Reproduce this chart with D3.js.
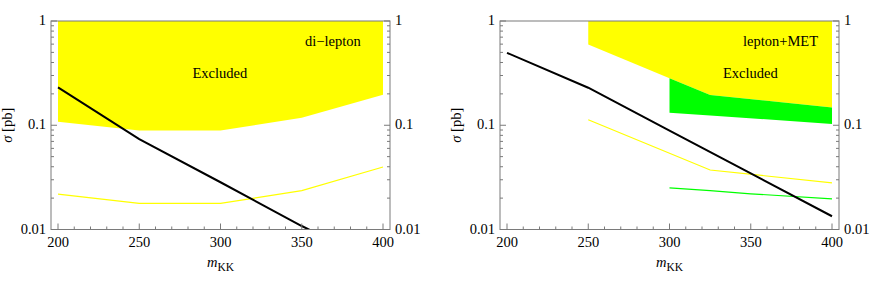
<!DOCTYPE html>
<html>
<head>
<meta charset="utf-8">
<script src="https://cdn.jsdelivr.net/npm/d3@7"></script>
<style>
  body { margin: 0; background: #fff; }
  svg { display: block; }
  text { font-family: "Liberation Serif", "Times New Roman", serif; font-size: 14.5px; fill: #000; }
</style>
</head>
<body>
<svg id="chart" width="872" height="286"></svg>
<script>
// masses shared by both panels
const masses = [200, 250, 300, 350, 400]
const xTicks = [200, 250, 300, 350, 400]
const yTicks = [1, 0.1, 0.01]
const yTickLabels = ['1', '0.1', '0.01']

// di-lepton panel
const dlExclMass = [200, 250, 300, 350, 400]
const dlExclLow = [0.108, 0.089, 0.089, 0.118, 0.196]
const dlExpected = [0.0218, 0.0178, 0.0178, 0.0236, 0.0398]
const dlSigma = [0.231, 0.0736, 0.0284, 0.0108, 0.0045]

// lepton+MET panel
const lmExclMass = [250, 300, 325, 400]
const lmExclLow = [0.594, 0.282, 0.195, 0.148]
const lmGreenMass = [300, 325, 400]
const lmGreenHigh = [0.282, 0.195, 0.148]
const lmGreenLow = [0.132, 0.124, 0.103]
const lmYellowMass = [250, 325, 400]
const lmYellowLine = [0.113, 0.0372, 0.028]
const lmGreenLineMass = [300, 325, 350, 400]
const lmGreenLine = [0.0251, 0.0236, 0.022, 0.0197]
const lmSigma = [0.495, 0.229, 0.089, 0.0345, 0.0134]

const svg = d3.select('#chart')
const frameTop = 21
const frameBottom = 229.5
const frameColor = '#7a7a7a'

/**
 * draw one framed log-scale panel
 */
const drawPanel = (cfg) => {
  const { left, right, id } = cfg
  const g = svg.append('g')
  const x = d3.scaleLinear().domain([200, 400]).range([left + 7, right - 7])
  const y = d3.scaleLog().domain([0.01, 1]).range([frameBottom, frameTop])

  g.append('clipPath').attr('id', 'clip' + id)
    .append('rect').attr('x', left).attr('y', frameTop)
    .attr('width', right - left).attr('height', frameBottom - frameTop)
  const plot = g.append('g').attr('clip-path', `url(#clip${id})`)

  // filled bands
  cfg.bands.forEach((b) => {
    const area = d3.area()
      .x((d) => x(d[0]))
      .y0((d) => y(d[1]))
      .y1((d) => y(d[2]))
    plot.append('path')
      .datum(b.mass.map((m, i) => [m, b.low[i], b.high[i]]))
      .attr('d', area)
      .attr('fill', b.color)
  })

  // lines
  cfg.lines.forEach((l) => {
    const line = d3.line().x((d) => x(d[0])).y((d) => y(d[1]))
    plot.append('path')
      .datum(l.mass.map((m, i) => [m, l.values[i]]))
      .attr('d', line)
      .attr('fill', 'none')
      .attr('stroke', l.color)
      .attr('stroke-width', l.width)
  })

  // frame
  g.append('rect').attr('x', left).attr('y', frameTop)
    .attr('width', right - left).attr('height', frameBottom - frameTop)
    .attr('fill', 'none').attr('stroke', frameColor).attr('stroke-width', 1)

  // x ticks (inward)
  const xMinor = d3.range(200, 401, 10).filter((v) => v % 50 !== 0)
  xTicks.forEach((v) => {
    g.append('line').attr('x1', x(v)).attr('x2', x(v))
      .attr('y1', frameBottom).attr('y2', frameBottom - 6).attr('stroke', frameColor)
    g.append('text').attr('x', x(v)).attr('y', frameBottom + 17)
      .attr('text-anchor', 'middle').text(v)
  })
  xMinor.forEach((v) => {
    g.append('line').attr('x1', x(v)).attr('x2', x(v))
      .attr('y1', frameBottom).attr('y2', frameBottom - 3).attr('stroke', frameColor)
  })

  // y ticks on both sides
  const yMinor = []
  ;[0.01, 0.1].forEach((d) => d3.range(2, 10).forEach((k) => yMinor.push(d * k)))
  yTicks.forEach((v, i) => {
    g.append('line').attr('x1', left).attr('x2', left + 6)
      .attr('y1', y(v)).attr('y2', y(v)).attr('stroke', frameColor)
    g.append('line').attr('x1', right).attr('x2', right - 6)
      .attr('y1', y(v)).attr('y2', y(v)).attr('stroke', frameColor)
    g.append('text').attr('x', left - 5).attr('y', y(v) + 4)
      .attr('text-anchor', 'end').text(yTickLabels[i])
    g.append('text').attr('x', right + 5).attr('y', y(v) + 4)
      .attr('text-anchor', 'start').text(yTickLabels[i])
  })
  yMinor.forEach((v) => {
    g.append('line').attr('x1', left).attr('x2', left + 3)
      .attr('y1', y(v)).attr('y2', y(v)).attr('stroke', frameColor)
    g.append('line').attr('x1', right).attr('x2', right - 3)
      .attr('y1', y(v)).attr('y2', y(v)).attr('stroke', frameColor)
  })

  // axis labels
  const xl = g.append('text').attr('x', (left + right) / 2).attr('y', 267)
    .attr('text-anchor', 'middle').attr('font-size', '14px')
  xl.append('tspan').attr('font-style', 'italic').text('m')
  xl.append('tspan').attr('font-size', '11.5px').attr('dy', 4).text('KK')

  const yl = g.append('text')
    .attr('transform', `translate(${left - 39},${(frameTop + frameBottom) / 2}) rotate(-90)`)
    .attr('text-anchor', 'middle').attr('font-size', '14px')
  yl.append('tspan').attr('font-style', 'italic').text('σ')
  yl.append('tspan').text(' [pb]')

  // annotations
  cfg.notes.forEach((n) => {
    g.append('text').attr('x', n.x).attr('y', n.y).attr('font-size', '15px').text(n.text)
  })
}

drawPanel({
  id: 'a',
  left: 51,
  right: 390,
  bands: [
    { mass: dlExclMass, low: dlExclLow, high: dlExclMass.map(() => 1), color: '#ffff00' }
  ],
  lines: [
    { mass: masses, values: dlExpected, color: '#ffff00', width: 1.2 },
    { mass: masses, values: dlSigma, color: '#000', width: 2 }
  ],
  notes: [
    { x: 305, y: 46, text: 'di\u2212lepton' },
    { x: 192.5, y: 77.5, text: 'Excluded' }
  ]
})

drawPanel({
  id: 'b',
  left: 500,
  right: 839,
  bands: [
    { mass: lmExclMass, low: lmExclLow, high: lmExclMass.map(() => 1), color: '#ffff00' },
    { mass: lmGreenMass, low: lmGreenLow, high: lmGreenHigh, color: '#00ff00' }
  ],
  lines: [
    { mass: lmYellowMass, values: lmYellowLine, color: '#ffff00', width: 1.2 },
    { mass: lmGreenLineMass, values: lmGreenLine, color: '#00ff00', width: 1.2 },
    { mass: masses, values: lmSigma, color: '#000', width: 2 }
  ],
  notes: [
    { x: 743, y: 46, text: 'lepton+MET' },
    { x: 723, y: 77.5, text: 'Excluded' }
  ]
})
</script>
</body>
</html>
